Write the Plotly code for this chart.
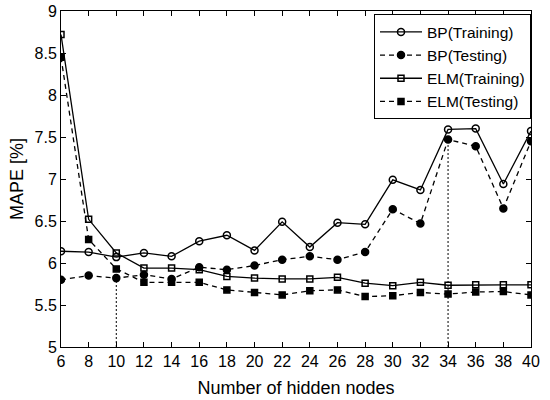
import plotly.graph_objects as go

hidden_nodes = [6, 8, 10, 12, 14, 16, 18, 20, 22, 24, 26, 28, 30, 32, 34, 36, 38, 40]

bp_training = [6.14, 6.13, 6.07, 6.12, 6.08, 6.26, 6.33, 6.15, 6.49, 6.19, 6.48, 6.46, 6.99, 6.87, 7.59, 7.60, 6.94, 7.57]
bp_testing = [5.80, 5.85, 5.82, 5.86, 5.81, 5.95, 5.92, 5.97, 6.04, 6.08, 6.04, 6.13, 6.64, 6.47, 7.47, 7.39, 6.65, 7.45]
elm_training = [8.72, 6.52, 6.12, 5.94, 5.94, 5.92, 5.84, 5.82, 5.81, 5.81, 5.83, 5.76, 5.73, 5.77, 5.735, 5.74, 5.74, 5.74]
elm_testing = [8.45, 6.28, 5.93, 5.77, 5.77, 5.77, 5.68, 5.65, 5.62, 5.67, 5.68, 5.60, 5.61, 5.65, 5.63, 5.655, 5.66, 5.62]

marked_nodes = [10, 34]

x_ticks = list(range(6, 41, 2))
y_ticks = [5, 5.5, 6, 6.5, 7, 7.5, 8, 8.5, 9]

FONT = "Liberation Sans, Arial, sans-serif"
fig = go.Figure()

series = [
    ("BP(Training)", bp_training, "solid", "circle-open", 7),
    ("BP(Testing)", bp_testing, "5px,4px", "circle", 7),
    ("ELM(Training)", elm_training, "solid", "square-open", 6),
    ("ELM(Testing)", elm_testing, "5px,4px", "square", 6),
]
for name, vals, dash, sym, ms in series:
    fig.add_trace(go.Scatter(
        x=hidden_nodes, y=vals, name=name, mode="lines+markers",
        line=dict(color="black", width=1.3, dash=dash),
        marker=dict(symbol=sym, size=ms, color="black", line=dict(color="black", width=1.5)),
    ))

for xn in marked_nodes:
    yv = bp_testing[hidden_nodes.index(xn)]
    fig.add_trace(go.Scatter(
        x=[xn, xn], y=[5, yv], mode="lines", showlegend=False, hoverinfo="skip",
        line=dict(color="black", width=1, dash="2px,2px"),
    ))

axis_common = dict(
    showline=True, linecolor="black", linewidth=1, mirror="ticks",
    ticks="inside", ticklen=5, tickcolor="black", showgrid=False, zeroline=False,
    tickfont=dict(family=FONT, size=16, color="black"), automargin=False,
)
fig.update_xaxes(range=[6, 40], tickvals=x_ticks, ticktext=[str(t) for t in x_ticks],
                 title=dict(text="Number of hidden nodes", font=dict(family=FONT, size=18, color="black"), standoff=12),
                 **axis_common)
fig.update_yaxes(range=[5, 9], tickvals=y_ticks, ticktext=[f"{t:g}" for t in y_ticks],
                 title=dict(text="MAPE [%]", font=dict(family=FONT, size=18, color="black"), standoff=6),
                 **axis_common)

fig.update_layout(
    width=550, height=400,
    margin=dict(l=61, r=19, t=11, b=53),
    paper_bgcolor="white", plot_bgcolor="white",
    font=dict(family=FONT, size=14, color="black"),
    legend=dict(x=1, y=0.99, xanchor="right", yanchor="top", bgcolor="white",
                bordercolor="black", borderwidth=1, font=dict(family=FONT, size=15.5, color="black"),
                tracegroupgap=0, itemwidth=42),
)

fig.write_html("out.html")
